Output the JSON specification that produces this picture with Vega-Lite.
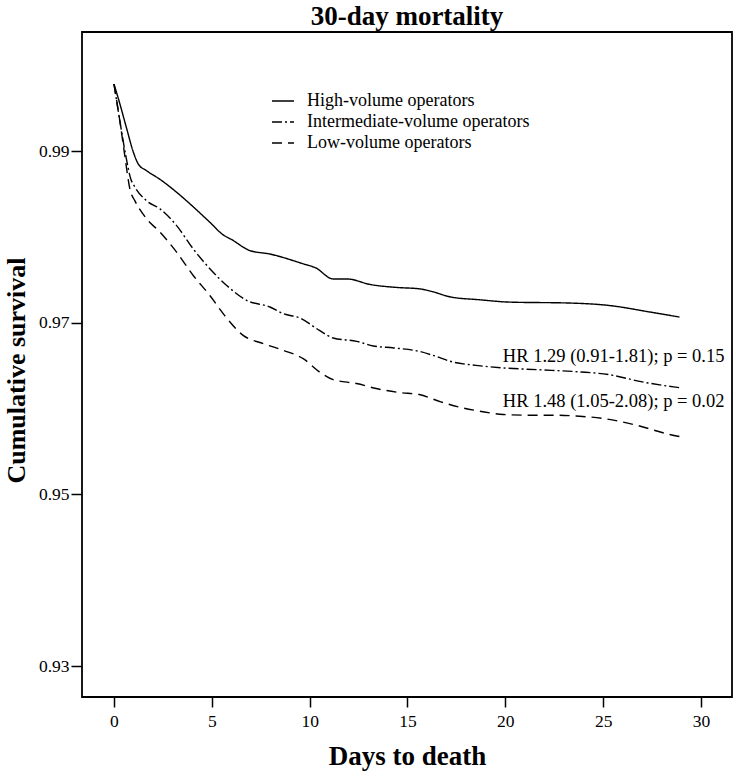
{
  "$schema": "https://vega.github.io/schema/vega-lite/v6.json",
  "width": 650,
  "height": 665,
  "autosize": {"type": "none"},
  "padding": {"left": 82, "top": 32, "right": 4, "bottom": 79},
  "background": "white",
  "title": {"text": "30-day mortality", "font": "Liberation Serif", "fontSize": 27, "fontWeight": "bold", "color": "black", "anchor": "middle", "offset": 1},
  "config": {
    "view": {"stroke": "black", "strokeWidth": 1.8},
    "axis": {"grid": false, "domain": false, "tickColor": "black", "labelColor": "black", "titleColor": "black", "labelFont": "Liberation Serif", "titleFont": "Liberation Serif", "labelFontSize": 17.5, "titleFontSize": 26, "titleFontWeight": "bold", "tickWidth": 1.5}
  },
  "layer": [
    {
      "data": {"values": [
        {"group": "High-volume operators", "day": 0, "surv": 0.9978},
        {"group": "High-volume operators", "day": 0.3, "surv": 0.9955},
        {"group": "High-volume operators", "day": 0.65, "surv": 0.9926},
        {"group": "High-volume operators", "day": 1.0, "surv": 0.9898},
        {"group": "High-volume operators", "day": 1.24, "surv": 0.9885},
        {"group": "High-volume operators", "day": 1.67, "surv": 0.9877},
        {"group": "High-volume operators", "day": 2.35, "surv": 0.9867},
        {"group": "High-volume operators", "day": 3.2, "surv": 0.9852},
        {"group": "High-volume operators", "day": 4.05, "surv": 0.9835},
        {"group": "High-volume operators", "day": 4.9, "surv": 0.9817},
        {"group": "High-volume operators", "day": 5.6, "surv": 0.9802},
        {"group": "High-volume operators", "day": 6.0, "surv": 0.9797},
        {"group": "High-volume operators", "day": 6.95, "surv": 0.9784},
        {"group": "High-volume operators", "day": 7.97, "surv": 0.978},
        {"group": "High-volume operators", "day": 9.67, "surv": 0.97686},
        {"group": "High-volume operators", "day": 10.3, "surv": 0.9764},
        {"group": "High-volume operators", "day": 11.2, "surv": 0.9751},
        {"group": "High-volume operators", "day": 11.9, "surv": 0.9751},
        {"group": "High-volume operators", "day": 13.1, "surv": 0.97445},
        {"group": "High-volume operators", "day": 14.5, "surv": 0.9741},
        {"group": "High-volume operators", "day": 15.6, "surv": 0.97395},
        {"group": "High-volume operators", "day": 16.3, "surv": 0.9736},
        {"group": "High-volume operators", "day": 17.2, "surv": 0.973},
        {"group": "High-volume operators", "day": 18.7, "surv": 0.97267},
        {"group": "High-volume operators", "day": 20.2, "surv": 0.9724},
        {"group": "High-volume operators", "day": 23.3, "surv": 0.97229},
        {"group": "High-volume operators", "day": 25.3, "surv": 0.97201},
        {"group": "High-volume operators", "day": 27.4, "surv": 0.97124},
        {"group": "High-volume operators", "day": 28.9, "surv": 0.97066},
        {"group": "Intermediate-volume operators", "day": 0, "surv": 0.9978},
        {"group": "Intermediate-volume operators", "day": 0.3, "surv": 0.9935},
        {"group": "Intermediate-volume operators", "day": 0.6, "surv": 0.9895},
        {"group": "Intermediate-volume operators", "day": 0.85, "surv": 0.9868},
        {"group": "Intermediate-volume operators", "day": 1.07, "surv": 0.9858},
        {"group": "Intermediate-volume operators", "day": 1.67, "surv": 0.9842},
        {"group": "Intermediate-volume operators", "day": 2.35, "surv": 0.98326},
        {"group": "Intermediate-volume operators", "day": 3.2, "surv": 0.98131},
        {"group": "Intermediate-volume operators", "day": 4.05, "surv": 0.9786},
        {"group": "Intermediate-volume operators", "day": 4.9, "surv": 0.97628},
        {"group": "Intermediate-volume operators", "day": 5.76, "surv": 0.97434},
        {"group": "Intermediate-volume operators", "day": 6.78, "surv": 0.9726},
        {"group": "Intermediate-volume operators", "day": 7.97, "surv": 0.97183},
        {"group": "Intermediate-volume operators", "day": 8.65, "surv": 0.97105},
        {"group": "Intermediate-volume operators", "day": 9.5, "surv": 0.97055},
        {"group": "Intermediate-volume operators", "day": 10.5, "surv": 0.9691},
        {"group": "Intermediate-volume operators", "day": 11.2, "surv": 0.96822},
        {"group": "Intermediate-volume operators", "day": 12.4, "surv": 0.96783},
        {"group": "Intermediate-volume operators", "day": 13.25, "surv": 0.96729},
        {"group": "Intermediate-volume operators", "day": 14.3, "surv": 0.96706},
        {"group": "Intermediate-volume operators", "day": 15.6, "surv": 0.96666},
        {"group": "Intermediate-volume operators", "day": 16.3, "surv": 0.9662},
        {"group": "Intermediate-volume operators", "day": 17.3, "surv": 0.96543},
        {"group": "Intermediate-volume operators", "day": 18.5, "surv": 0.96503},
        {"group": "Intermediate-volume operators", "day": 19.9, "surv": 0.96473},
        {"group": "Intermediate-volume operators", "day": 21.6, "surv": 0.96453},
        {"group": "Intermediate-volume operators", "day": 23.8, "surv": 0.96427},
        {"group": "Intermediate-volume operators", "day": 25.3, "surv": 0.96395},
        {"group": "Intermediate-volume operators", "day": 27.0, "surv": 0.9631},
        {"group": "Intermediate-volume operators", "day": 28.6, "surv": 0.96252},
        {"group": "Intermediate-volume operators", "day": 29.0, "surv": 0.9624},
        {"group": "Low-volume operators", "day": 0, "surv": 0.9978},
        {"group": "Low-volume operators", "day": 0.3, "surv": 0.9935},
        {"group": "Low-volume operators", "day": 0.55, "surv": 0.9895},
        {"group": "Low-volume operators", "day": 0.82, "surv": 0.9855},
        {"group": "Low-volume operators", "day": 1.07, "surv": 0.9842},
        {"group": "Low-volume operators", "day": 1.67, "surv": 0.9821},
        {"group": "Low-volume operators", "day": 2.35, "surv": 0.98055},
        {"group": "Low-volume operators", "day": 3.2, "surv": 0.97822},
        {"group": "Low-volume operators", "day": 4.05, "surv": 0.9755},
        {"group": "Low-volume operators", "day": 4.9, "surv": 0.97317},
        {"group": "Low-volume operators", "day": 5.65, "surv": 0.97085},
        {"group": "Low-volume operators", "day": 6.6, "surv": 0.96853},
        {"group": "Low-volume operators", "day": 7.63, "surv": 0.96756},
        {"group": "Low-volume operators", "day": 8.65, "surv": 0.96678},
        {"group": "Low-volume operators", "day": 9.67, "surv": 0.96581},
        {"group": "Low-volume operators", "day": 10.5, "surv": 0.96427},
        {"group": "Low-volume operators", "day": 11.2, "surv": 0.96337},
        {"group": "Low-volume operators", "day": 12.4, "surv": 0.96291},
        {"group": "Low-volume operators", "day": 13.4, "surv": 0.96233},
        {"group": "Low-volume operators", "day": 14.6, "surv": 0.96186},
        {"group": "Low-volume operators", "day": 15.6, "surv": 0.96163},
        {"group": "Low-volume operators", "day": 16.7, "surv": 0.96078},
        {"group": "Low-volume operators", "day": 17.8, "surv": 0.96008},
        {"group": "Low-volume operators", "day": 18.7, "surv": 0.95969},
        {"group": "Low-volume operators", "day": 19.9, "surv": 0.9593},
        {"group": "Low-volume operators", "day": 21.3, "surv": 0.95922},
        {"group": "Low-volume operators", "day": 22.6, "surv": 0.95922},
        {"group": "Low-volume operators", "day": 23.8, "surv": 0.9591},
        {"group": "Low-volume operators", "day": 25.0, "surv": 0.95884},
        {"group": "Low-volume operators", "day": 26.7, "surv": 0.95806},
        {"group": "Low-volume operators", "day": 28.4, "surv": 0.95698},
        {"group": "Low-volume operators", "day": 29.0, "surv": 0.9567}
      ]},
      "mark": {"type": "line", "color": "black", "strokeWidth": 1.4, "interpolate": "monotone"},
      "encoding": {
        "x": {"field": "day", "type": "quantitative", "title": "Days to death",
          "scale": {"domain": [-1.635, 31.585], "nice": false, "zero": false},
          "axis": {"values": [0, 5, 10, 15, 20, 25, 30], "tickSize": 10, "labelPadding": 5, "titlePadding": 14, "titleFontSize": 27}},
        "y": {"field": "surv", "type": "quantitative", "title": "Cumulative survival",
          "scale": {"domain": [0.92639, 1.00387], "nice": false, "zero": false},
          "axis": {"values": [0.93, 0.95, 0.97, 0.99], "format": ".2f", "tickSize": 11, "labelPadding": 2, "titlePadding": 9, "titleY": 338}},
        "strokeDash": {"field": "group", "type": "nominal",
          "scale": {"domain": ["High-volume operators", "Intermediate-volume operators", "Low-volume operators"], "range": [[1, 0], [10, 3, 2, 3], [10, 6]]},
          "legend": {"title": null, "orient": "none", "legendX": 189, "legendY": 57, "symbolType": "stroke", "symbolSize": 484, "symbolStrokeColor": "black", "symbolStrokeWidth": 1.4, "labelFont": "Liberation Serif", "labelFontSize": 18, "labelColor": "black", "labelLimit": 0, "rowPadding": -2, "labelOffset": 12, "padding": 0}}
      }
    },
    {
      "data": {"values": [
        {"label": "HR 1.29 (0.91-1.81); p = 0.15", "day": 31.2, "surv": 0.96547},
        {"label": "HR 1.48 (1.05-2.08); p = 0.02", "day": 31.2, "surv": 0.96023}
      ]},
      "mark": {"type": "text", "align": "right", "baseline": "alphabetic", "font": "Liberation Serif", "fontSize": 18.5, "color": "black"},
      "encoding": {
        "x": {"field": "day", "type": "quantitative"},
        "y": {"field": "surv", "type": "quantitative"},
        "text": {"field": "label"}
      }
    }
  ]
}
